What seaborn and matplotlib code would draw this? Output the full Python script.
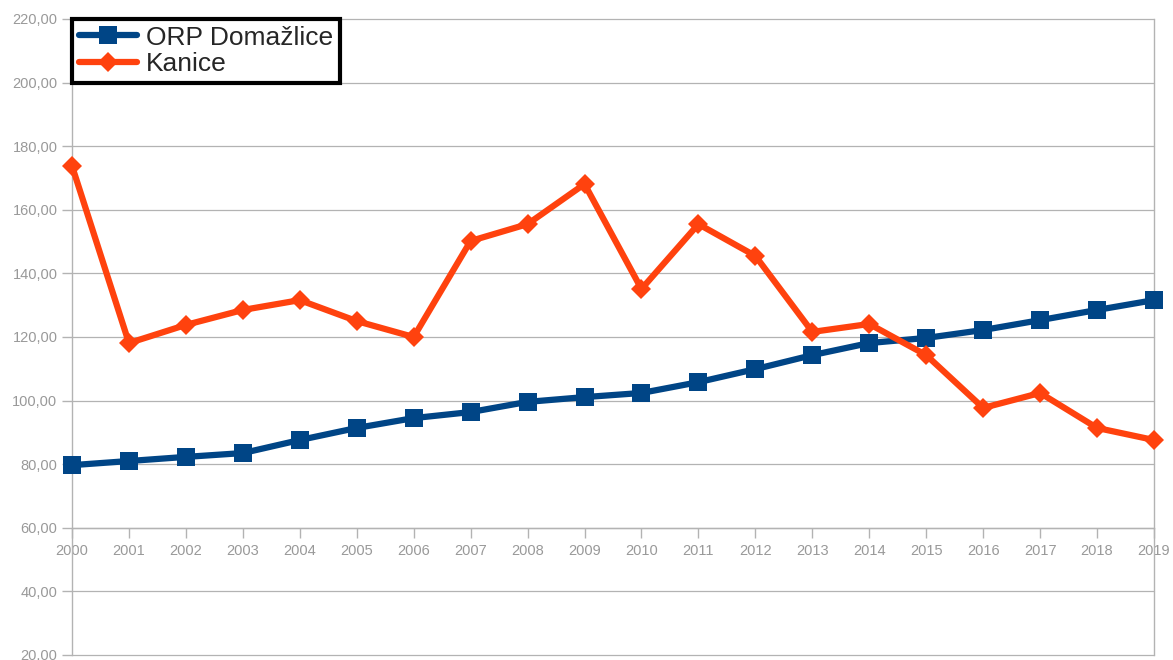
"""ORP Domažlice vs. Kanice – line chart recreated with seaborn."""

import matplotlib
matplotlib.use("Agg")
import matplotlib.pyplot as plt
import pandas as pd
import seaborn as sns
from matplotlib.lines import Line2D
from matplotlib.ticker import FuncFormatter

years = list(range(2000, 2020))
orp_domazlice = [79.7, 81.0, 82.3, 83.5, 87.6, 91.4, 94.5, 96.4, 99.6, 101.1,
                 102.4, 105.8, 109.9, 114.3, 118.1, 119.7, 122.2, 125.3, 128.5, 131.6]
kanice = [173.8, 118.1, 123.8, 128.5, 131.6, 125.0, 120.0, 150.2, 155.5, 168.1,
          135.1, 155.5, 145.5, 121.6, 124.1, 114.3, 97.7, 102.4, 91.4, 87.6]
series_names = ["ORP Domažlice", "Kanice"]
y_ticks = list(range(20, 221, 20))

BLUE = "#004586"
ORANGE = "#ff420e"
GRID = "#b3b3b3"
LABEL = "#999999"

df = pd.DataFrame({
    "rok": years * 2,
    "hodnota": orp_domazlice + kanice,
    "obec": [series_names[0]] * len(years) + [series_names[1]] * len(years),
})

sns.set_theme(style="white")
plt.rcParams["font.family"] = ["Liberation Sans", "DejaVu Sans"]

fig = plt.figure(figsize=(11.73, 6.6), dpi=100)
ax = fig.add_axes([72 / 1173, 5 / 660, (1154 - 72) / 1173, (655 - 19) / 660])

palette = {series_names[0]: BLUE, series_names[1]: ORANGE}
markers = {series_names[0]: "s", series_names[1]: "D"}
sizes = {series_names[0]: 13.5, series_names[1]: 10.5}

sns.lineplot(data=df, x="rok", y="hodnota", hue="obec", style="obec",
             palette=palette, markers=markers, dashes=False, linewidth=4.5,
             markeredgewidth=0, ax=ax, legend=False, zorder=3)
for line, name in zip(ax.lines, series_names):
    line.set_markersize(sizes[name])
    line.set_clip_on(False)

ax.set_xlim(2000, 2019)
ax.set_ylim(20, 220)
ax.set_yticks(y_ticks)
ax.set_xticks(years)
ax.yaxis.set_major_formatter(FuncFormatter(lambda v, _: f"{v:.2f}".replace(".", ",")))
ax.grid(axis="y", color=GRID, linewidth=0.9)
for gl in ax.get_ygridlines():
    gl.set_clip_on(False)
ax.set_axisbelow(True)
ax.set_xlabel("")
ax.set_ylabel("")

# osa x protíná osu y v hodnotě 60
ax.spines["bottom"].set_position(("data", 60))
ax.spines["top"].set_visible(False)
for side in ["bottom", "left", "right"]:
    ax.spines[side].set_color(GRID)
    ax.spines[side].set_linewidth(1.0)

ax.tick_params(axis="both", which="major", direction="out", length=7, width=1.0,
               color=GRID, labelcolor=LABEL, labelsize=10.5)
ax.tick_params(axis="x", bottom=True, pad=5)
ax.tick_params(axis="y", left=True)

handles = [
    Line2D([], [], color=BLUE, linewidth=4.5, marker="s", markersize=13.5, markeredgewidth=0),
    Line2D([], [], color=ORANGE, linewidth=4.5, marker="D", markersize=10.5, markeredgewidth=0),
]
leg = ax.legend(handles, series_names, loc="upper left", bbox_to_anchor=(0, 1.0),
                borderaxespad=0, fontsize=19, frameon=True, fancybox=False,
                framealpha=1, handlelength=2.2, handletextpad=0.35, borderpad=0.25,
                labelspacing=0.1, numpoints=1)
leg.get_frame().set_edgecolor("black")
leg.get_frame().set_linewidth(3.0)
leg.set_zorder(5)

fig.savefig("out.png", dpi=100)
